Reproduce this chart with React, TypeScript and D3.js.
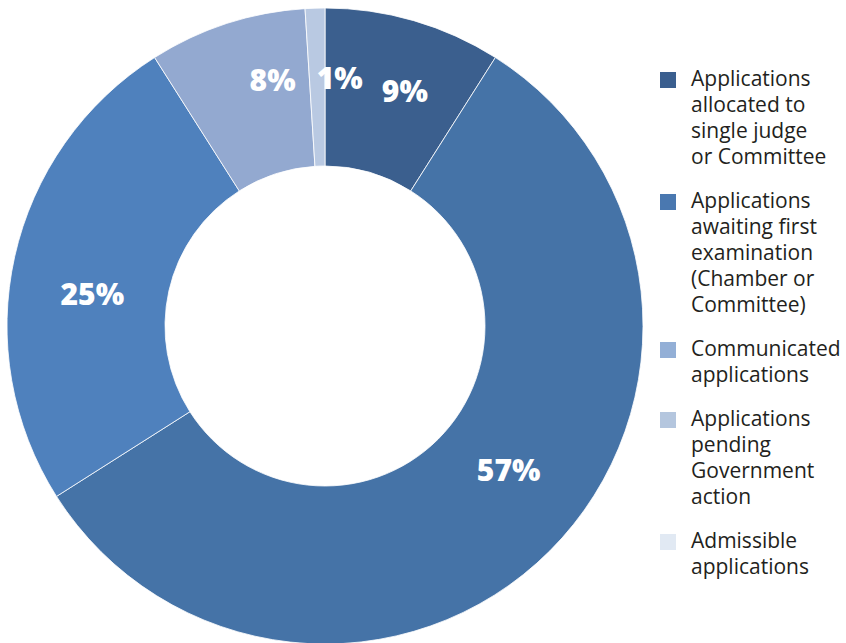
import React, { useEffect, useRef } from "react";
import * as d3 from "d3";

// slices, clockwise from 12 o'clock
const sliceValues = [9, 57, 25, 8, 1];
const sliceColors = ["#3b5f8e", "#4573a7", "#4f81bd", "#93a9d0", "#b9c9e2"];
// label placement tweaks from the original layout (degrees / px from centre)
const labelNudge = [2.5, -7, -4.6, 6, 5.2];
const labelRadius = [249, 233, 235, 252, 249];

const legendLabels = [
  ["Applications", "allocated to", "single judge", "or Committee"],
  ["Applications", "awaiting first", "examination", "(Chamber or", "Committee)"],
  ["Communicated", "applications"],
  ["Applications", "pending", "Government", "action"],
  ["Admissible", "applications"],
];
const legendColors = ["#3b5f8f", "#4a78b0", "#93afd6", "#b4c6de", "#e1e9f3"];

const App: React.FC = () => {
  const svgRef = useRef<SVGSVGElement | null>(null);

  useEffect(() => {
    const width = 846;
    const height = 643;
    const cx = 325;
    const cy = 326;
    const outerR = 318;
    const innerR = 160;

    const svg = d3.select(svgRef.current);
    svg.selectAll("*").remove();
    svg.attr("width", width).attr("height", height);

    const pie = d3
      .pie<number>()
      .sort(null)
      .value((d) => d);
    const arcs = pie(sliceValues);

    const arc = d3
      .arc<d3.PieArcDatum<number>>()
      .innerRadius(innerR)
      .outerRadius(outerR);

    const g = svg.append("g").attr("transform", `translate(${cx},${cy})`);

    g.selectAll("path")
      .data(arcs)
      .enter()
      .append("path")
      .attr("d", arc)
      .attr("fill", (_, i) => sliceColors[i])
      .attr("stroke", "#ffffff")
      .attr("stroke-width", 0.8);

    const angleOf = (d: d3.PieArcDatum<number>, i: number) =>
      (d.startAngle + d.endAngle) / 2 + (labelNudge[i] * Math.PI) / 180;

    g.selectAll("text.val")
      .data(arcs)
      .enter()
      .append("text")
      .attr("class", "val")
      .attr("x", (d, i) => labelRadius[i] * Math.sin(angleOf(d, i)))
      .attr("y", (d, i) => -labelRadius[i] * Math.cos(angleOf(d, i)))
      .attr("text-anchor", "middle")
      .attr("dominant-baseline", "central")
      .attr("fill", "#ffffff")
      .style("font-family", "'Open Sans', sans-serif")
      .style("font-weight", 800)
      .style("font-size", "30px")
      .text((d) => `${d.data}%`);

    // legend
    const lineH = 26;
    const gap = 18;
    const legend = svg.append("g").attr("transform", "translate(660,0)");
    let yTop = 70;
    legendLabels.forEach((lines, i) => {
      legend
        .append("rect")
        .attr("x", 0)
        .attr("y", yTop + 2)
        .attr("width", 16)
        .attr("height", 16)
        .attr("fill", legendColors[i]);
      const t = legend
        .append("text")
        .attr("x", 31)
        .attr("y", yTop + 16)
        .attr("fill", "#231f20")
        .style("font-family", "'Open Sans', sans-serif")
        .style("font-size", "21px");
      lines.forEach((ln, j) => {
        t.append("tspan")
          .attr("x", 31)
          .attr("dy", j === 0 ? 0 : lineH)
          .text(ln);
      });
      yTop += lines.length * lineH + gap;
    });
  }, []);

  return (
    <div style={{ position: "absolute", left: 0, top: 0, width: 846, height: 643, background: "#fff" }}>
      <svg ref={svgRef}></svg>
    </div>
  );
};

export default App;
